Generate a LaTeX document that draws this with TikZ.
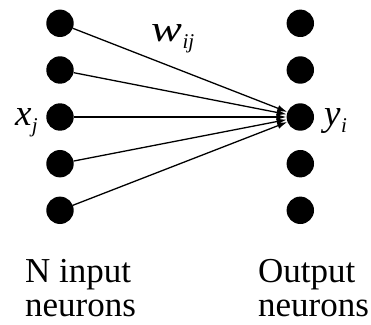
\documentclass[tikz,border=0pt]{standalone}
\usepackage{fontspec}
\setmainfont{Liberation Serif}
\usetikzlibrary{arrows.meta}
\tikzset{
  neuron/.style={circle,fill=black,inner sep=0pt,minimum size=27.4pt},
  conn/.style={line width=1.3pt,-{Latex[length=10pt,width=6.5pt]}},
  lbl/.style={inner sep=0pt,align=left,text depth=0pt,font=\fontsize{35}{34}\selectfont},
  mlbl/.style={inner sep=0pt,font=\fontsize{37}{37}\selectfont\itshape}
}
\newcommand{\sbx}[1]{\raisebox{-6.5pt}{\fontsize{21}{21}\selectfont\itshape #1}}
\begin{document}
\begin{tikzpicture}[x=1pt,y=1pt]
\useasboundingbox (0,0) rectangle (371,324);
\foreach \i/\y in {1/300.7,2/254,3/207,4/160.3,5/113.7}{
  \node[neuron] (L\i) at (60,\y) {};
  \node[neuron] (R\i) at (300.3,\y) {};
}
\foreach \i in {1,...,5}{
  \draw[conn] (L\i) -- (R3);
}
\node[mlbl,anchor=base east] (xj) at (38,198) {x\kern0.5pt\sbx{j}};
\node[mlbl,anchor=base west] (yi) at (324,198) {y\kern0.5pt\sbx{i}};
\node[mlbl,anchor=base west] (wij) at (151,282) {\scalebox{1.25}[1]{w}\kern0.5pt\sbx{ij}};
\node[lbl,anchor=base west] (in) at (25,8) {N input\\neurons};
\node[lbl,anchor=base west] (out) at (258,8) {Output\\neurons};
\end{tikzpicture}
\end{document}
